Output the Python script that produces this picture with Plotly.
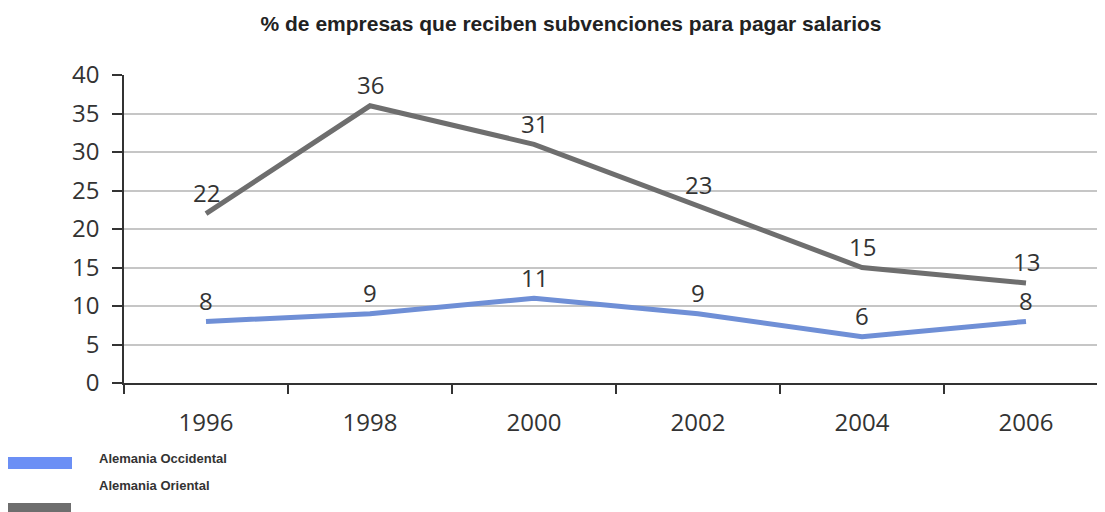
import plotly.graph_objects as go

years = ["1996", "1998", "2000", "2002", "2004", "2006"]
occidental = [8, 9, 11, 9, 6, 8]
oriental = [22, 36, 31, 23, 15, 13]
y_ticks = [0, 5, 10, 15, 20, 25, 30, 35, 40]

# figure sits inside an 8px page margin
W, H = 1100, 504
L, R, T, B = 116, 0, 67, 129
pw, ph = W - L - R, H - T - B

def px(x):
    return (x - L) / pw

def py(y):
    return (H - B - y) / ph

label_font = dict(family="Open Sans", size=24, color="#333333")

fig = go.Figure()
series = [
    ("Alemania Oriental", oriental, "#6e6e6e"),
    ("Alemania Occidental", occidental, "#6f8fd6"),
]
for name, vals, color in series:
    fig.add_trace(go.Scatter(
        x=years, y=vals, mode="lines", name=name,
        line=dict(color=color, width=5), cliponaxis=False))
    # category index positions on the category axis
    for i, v in enumerate(vals):
        fig.add_annotation(x=i, y=v, xref="x", yref="y", text=str(v),
                           showarrow=False, xanchor="center", yanchor="middle",
                           yshift=21, font=label_font)

fig.update_layout(
    width=W, height=H,
    margin=dict(l=L, r=R, t=T, b=B, pad=0),
    paper_bgcolor="white", plot_bgcolor="white",
    showlegend=False,
    title=dict(text="<b>% de empresas que reciben subvenciones para pagar salarios</b>",
               font=dict(family="Liberation Sans", size=21, color="#222222"),
               xref="container", x=563 / W, xanchor="center",
               yref="container", y=1 - 16 / H, yanchor="middle"),
    xaxis=dict(type="category", categoryorder="array", categoryarray=years,
               tickson="boundaries", ticks="outside", ticklen=9,
               tickcolor="#333333", tickwidth=1.5, showline=True, linecolor="#333333",
               linewidth=1.5, showgrid=False, tickfont=label_font,
               ticklabelstandoff=17, range=[-0.5, 5.5]),
    yaxis=dict(range=[0, 40], tickvals=y_ticks, ticks="outside", ticklen=10,
               tickcolor="#333333", tickwidth=1.5, showline=True, linecolor="#333333",
               linewidth=1.5, showgrid=True, gridcolor="#c6c6c6", gridwidth=2,
               tickfont=label_font, ticklabelstandoff=8, zeroline=False),
)

legend_items = [
    ("Alemania Occidental", "#6b8ff5", (0, 64, 449, 461), 450),
    ("Alemania Oriental", "#6e6e6e", (-1, 63, 495, 507), 478),
]
for name, color, (x0, x1, y0, y1), ty in legend_items:
    fig.add_shape(type="rect", xref="paper", yref="paper",
                  x0=px(x0), x1=px(x1), y0=py(y0), y1=py(y1),
                  fillcolor=color, line=dict(width=0), layer="above")
    fig.add_annotation(text="<b>%s</b>" % name, xref="paper", yref="paper",
                       x=px(89), y=py(ty), xanchor="left", yanchor="middle",
                       showarrow=False,
                       font=dict(family="Liberation Sans", size=13, color="#333333"))

fig.write_html("out.html")
